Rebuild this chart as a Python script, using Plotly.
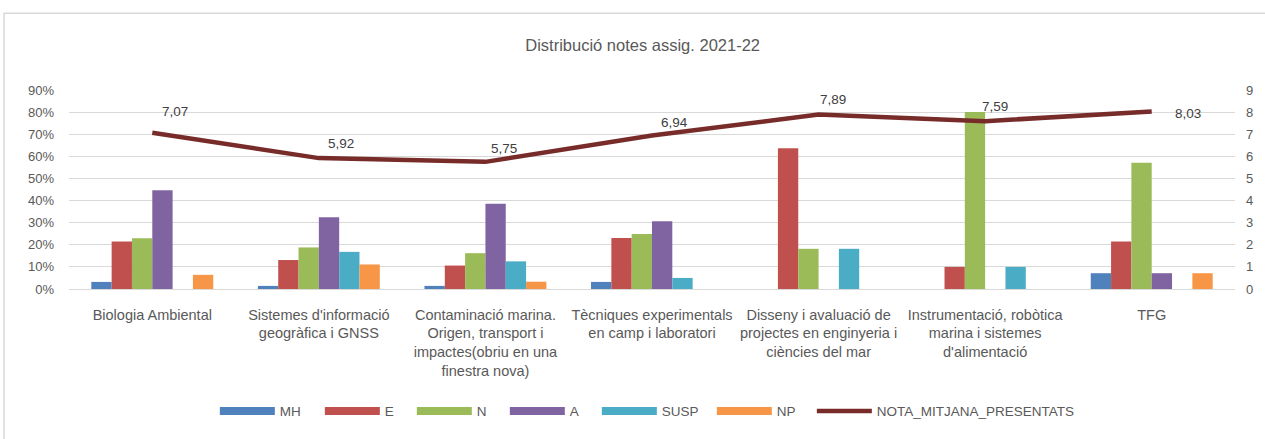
import plotly.graph_objects as go

categories = [
    "Biologia Ambiental",
    "Sistemes d'informació<br>geogràfica i GNSS",
    "Contaminació marina.<br>Origen, transport i<br>impactes(obriu en una<br>finestra nova)",
    "Tècniques experimentals<br>en camp i laboratori",
    "Disseny i avaluació de<br>projectes en enginyeria i<br>ciències del mar",
    "Instrumentació, robòtica<br>marina i sistemes<br>d'alimentació",
    "TFG",
]

MH = [0.032, 0.014, 0.014, 0.032, 0.0, 0.0, 0.0714]
E = [0.215, 0.131, 0.106, 0.231, 0.6364, 0.10, 0.2143]
N = [0.229, 0.188, 0.162, 0.249, 0.1818, 0.80, 0.5714]
A = [0.447, 0.325, 0.385, 0.306, 0.0, 0.0, 0.0714]
SUSP = [0.0, 0.168, 0.125, 0.050, 0.1818, 0.10, 0.0]
NP = [0.064, 0.111, 0.033, 0.0, 0.0, 0.0, 0.0714]
NOTA_MITJANA = [7.07, 5.92, 5.75, 6.94, 7.89, 7.59, 8.03]
nota_labels = ["7,07", "5,92", "5,75", "6,94", "7,89", "7,59", "8,03"]

series = [("MH", MH, "#4F81BD"), ("E", E, "#C0504D"), ("N", N, "#9BBB59"),
          ("A", A, "#8064A2"), ("SUSP", SUSP, "#4BACC6"), ("NP", NP, "#F79646")]
legend_widths = [35, 22, 23, 22, 45, 30]
line_color = "#772C2A"
text_color = "#595959"
font_family = "Liberation Sans, Arial, sans-serif"

fig = go.Figure()
for (name, vals, col), lw in zip(series, legend_widths):
    fig.add_trace(go.Bar(x=categories, y=vals, name=name, marker_color=col,
                         marker_line_width=0, showlegend=False, hoverinfo="skip"))
    # legend proxy (wide rectangle-like symbol)
    fig.add_trace(go.Scatter(x=[None], y=[None], mode="lines", name=name,
                             line=dict(color=col, width=8), legendwidth=lw))

fig.add_trace(go.Scatter(x=categories, y=NOTA_MITJANA, yaxis="y2", mode="lines",
                         name="NOTA_MITJANA_PRESENTATS",
                         line=dict(color=line_color, width=4.5)))

label_shifts = [(23, 21), (22, 15), (19, 13), (22, 13), (14, 15), (10, 15), (36, -2)]
for cat, v, lab, (dx, dy) in zip(categories, NOTA_MITJANA, nota_labels, label_shifts):
    fig.add_annotation(x=cat, y=v, yref="y2", text=lab, showarrow=False,
                       xshift=dx, yshift=dy,
                       font=dict(size=13.5, color="#404040", family=font_family))

# chart border
fig.add_shape(type="rect", xref="paper", yref="paper",
              x0=-0.0557, x1=1.05, y0=-0.8, y1=1.386,
              line=dict(color="#D9D9D9", width=1.5), fillcolor="rgba(0,0,0,0)")

fig.update_layout(
    width=1265, height=439,
    margin=dict(l=69, r=30, t=90, b=149.5),
    paper_bgcolor="white", plot_bgcolor="white",
    barmode="group", bargap=0.268, bargroupgap=0,
    font=dict(family=font_family, color=text_color, size=13),
    title=dict(text="Distribució notes assig. 2021-22", x=0.508, xanchor="center",
               y=1 - 45 / 439, yanchor="middle",
               font=dict(size=16.5, color=text_color, family=font_family)),
    xaxis=dict(showgrid=False, showline=False, ticks="", tickfont=dict(size=14.5),
               ticklabelstandoff=15),
    yaxis=dict(range=[0, 0.9], dtick=0.1, tickformat=".0%", showgrid=True,
               gridcolor="#D9D9D9", gridwidth=1, zeroline=True, zerolinecolor="#D9D9D9",
               zerolinewidth=1, showline=False, ticks="", tickfont=dict(size=13),
               ticklabelstandoff=14),
    yaxis2=dict(range=[0, 9], dtick=1, overlaying="y", side="right", showgrid=False,
                zeroline=False, showline=False, ticks="", tickfont=dict(size=13),
                ticklabelstandoff=10),
    legend=dict(orientation="h", x=0.496, xanchor="center", y=(289.5 - 412) / 199.5,
                yanchor="middle", itemwidth=55, font=dict(size=13.5, color=text_color),
                traceorder="normal"),
)

fig.write_html("out.html", config={"displayModeBar": False},
               post_script="document.body.style.margin='0';")
